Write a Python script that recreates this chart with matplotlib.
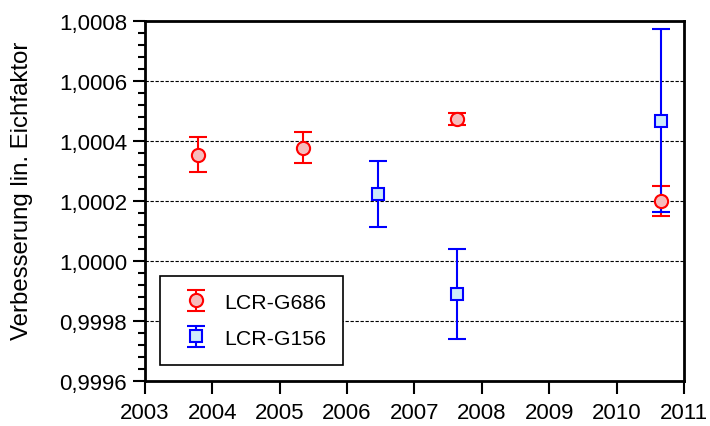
import matplotlib.pyplot as plt
from matplotlib.ticker import MultipleLocator, FuncFormatter

plt.rcParams['font.family'] = ['Liberation Sans', 'DejaVu Sans']

# LCR-G686
g686_year = [2003.78, 2005.35, 2007.63, 2010.66]
g686_val = [1.000353, 1.000377, 1.000472, 1.000200]
g686_err = [0.000058, 0.000052, 0.000020, 0.000050]

# LCR-G156
g156_year = [2006.46, 2007.63, 2010.66]
g156_val = [1.000223, 0.999889, 1.000467]
g156_err = [0.000110, 0.000149, 0.000305]

fig = plt.figure(figsize=(7.1, 4.27), dpi=100)
ax = fig.add_axes([0.2042, 0.1061, 0.7592, 0.8431])

ax.errorbar(g686_year, g686_val, yerr=g686_err, fmt='o', color='red',
            mfc='#f6bcbc', mec='red', ms=9.5, mew=1.5, elinewidth=1.5,
            capsize=6.5, capthick=1.5, label='LCR-G686', zorder=3)
ax.errorbar(g156_year, g156_val, yerr=g156_err, fmt='s', color='blue',
            mfc='#cdeafa', mec='blue', ms=9, mew=1.5, elinewidth=1.5,
            capsize=6.5, capthick=1.5, label='LCR-G156', zorder=3)

ax.set_xlim(2003, 2011)
ax.set_ylim(0.9996, 1.0008)
ax.xaxis.set_major_locator(MultipleLocator(1))
ax.yaxis.set_major_locator(MultipleLocator(0.0002))
ax.yaxis.set_minor_locator(MultipleLocator(0.00004))
ax.yaxis.set_major_formatter(FuncFormatter(lambda v, p: f'{v:.4f}'.replace('.', ',')))

for y in [0.9998, 1.0000, 1.0002, 1.0004, 1.0006]:
    ax.axhline(y, color='black', lw=0.8, ls=(0, (3, 1.5)), zorder=1)

for s in ax.spines.values():
    s.set_linewidth(2)
ax.tick_params(axis='y', which='major', direction='out', length=9, width=1.5, labelsize=16, pad=4)
ax.tick_params(axis='y', which='minor', direction='out', length=5, width=1.5)
ax.tick_params(axis='x', which='major', direction='out', length=9, width=1.5, labelsize=16, pad=6)

ax.set_ylabel('Verbesserung lin. Eichfaktor', fontsize=17.3)
ax.yaxis.set_label_coords(-0.208, 0.53)

leg = ax.legend(loc='lower left', bbox_to_anchor=(0.028, 0.044), fontsize=15.3,
                fancybox=False, edgecolor='black', framealpha=1,
                handlelength=1.8, handletextpad=0.4, borderpad=0.8,
                labelspacing=0.8, borderaxespad=0)
leg.get_frame().set_linewidth(1.2)

fig.savefig('out.png', dpi=100)
